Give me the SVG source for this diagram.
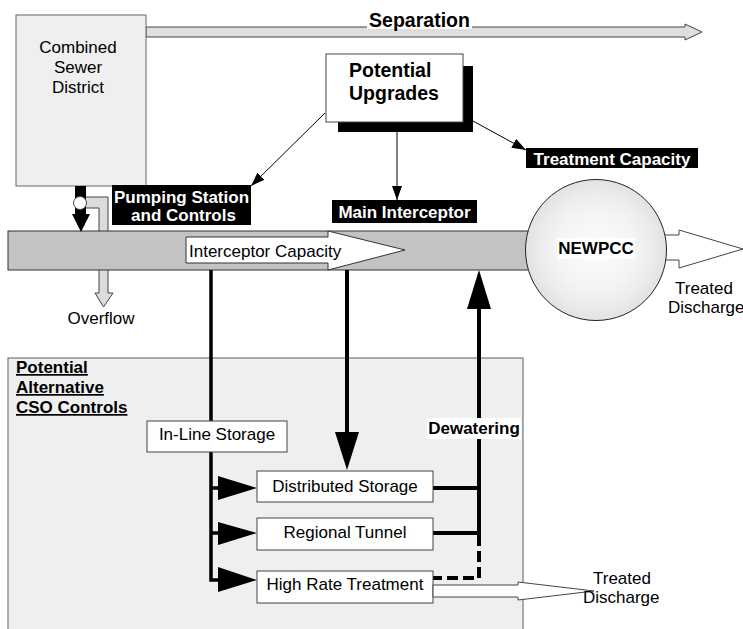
<svg xmlns="http://www.w3.org/2000/svg" width="743" height="629" viewBox="0 0 743 629">
<style>
text{font-family:"Liberation Sans",Arial,sans-serif;font-size:17px;fill:#000}
.b{font-weight:bold}
.w{fill:#fff}
.title{font-size:19.5px;font-weight:bold}
.u{text-decoration:underline}
.box{fill:#fff;stroke:#444;stroke-width:1}
.thin{stroke:#000;stroke-width:1;fill:none}
.thick{stroke:#000;stroke-width:4;fill:none}
.blk{fill:#000}
</style>
<defs>
<marker id="ah" viewBox="0 0 14 10" refX="14" refY="5" markerWidth="14" markerHeight="10" markerUnits="userSpaceOnUse" orient="auto">
<path d="M0,0 L14,5 L0,10 Z" fill="#000"/>
</marker>
<radialGradient id="rg" cx="0.5" cy="0.5" r="0.5">
<stop offset="0" stop-color="#fcfcfc"/>
<stop offset="0.55" stop-color="#f4f4f4"/>
<stop offset="0.8" stop-color="#ececec"/>
<stop offset="1" stop-color="#e2e2e2"/>
</radialGradient>
</defs>

<g id="cso-area">
<rect x="8" y="358" width="515" height="290" fill="#efefef" stroke="#777" stroke-width="1.2"/>
<text class="b u" x="16" y="373">Potential</text>
<text class="b u" x="16" y="393">Alternative</text>
<text class="b u" x="16" y="413">CSO Controls</text>
</g>

<g id="separation">
<polygon points="146,27 685,27 685,24 702,32 685,40 685,37 146,37" fill="#dedede" stroke="#444" stroke-width="1"/>
<rect x="367" y="10" width="105" height="19" fill="#fff"/>
<text class="title" x="419.5" y="27" text-anchor="middle">Separation</text>
</g>

<g id="combined-sewer-district">
<rect x="16" y="15" width="130" height="171" fill="#efefef" stroke="#666" stroke-width="1"/>
<text x="78" y="53" text-anchor="middle">Combined</text>
<text x="78" y="73" text-anchor="middle">Sewer</text>
<text x="78" y="93" text-anchor="middle">District</text>
</g>

<g id="overflow">
<polygon points="84,197 108,197 108,293 113,293 103.5,307 95,293 99,293 99,208 84,208" fill="#dcdcdc" stroke="#444" stroke-width="1"/>
<text x="101" y="324" text-anchor="middle">Overflow</text>
</g>

<g id="treated-discharge-top">
<polygon points="655,235 679,235 679,230 743,249 679,268 679,260 655,260" fill="#fff" stroke="#444" stroke-width="1"/>
<text x="675" y="294">Treated</text>
<text x="668" y="313">Discharge</text>
</g>

<g id="interceptor">
<rect x="8" y="231" width="530" height="39" fill="#c3c3c3" stroke="#333" stroke-width="1"/>
</g>

<g id="interceptor-capacity">
<polygon points="186,237 328,237 328,231 405,250 328,270 328,263 186,263" fill="#fff" stroke="#333" stroke-width="1"/>
<text x="189" y="257">Interceptor Capacity</text>
</g>

<g id="pumping-junction">
<rect x="75" y="186" width="11" height="30" fill="#000"/>
<polygon points="72,214 90,214 81,232" fill="#000"/>
<circle cx="80" cy="203" r="6.5" fill="#fff" stroke="#444" stroke-width="1"/>
</g>

<g id="newpcc">
<circle cx="596" cy="250" r="70.5" fill="url(#rg)" stroke="#222" stroke-width="1"/>
<rect x="557" y="238" width="78" height="21" fill="#fff"/>
<text class="b" x="596" y="254" text-anchor="middle">NEWPCC</text>
</g>

<g id="potential-upgrades">
<rect x="338" y="66" width="135" height="66" fill="#000"/>
<rect x="326" y="54" width="137" height="68" fill="#fff" stroke="#444" stroke-width="1"/>
<text class="title" x="349" y="77">Potential</text>
<text class="title" x="349" y="100">Upgrades</text>
</g>

<g id="pumping-station-label">
<rect x="112" y="185" width="139" height="40" fill="#000"/>
<text class="b w" x="181.5" y="203" text-anchor="middle">Pumping Station</text>
<text class="b w" x="183.5" y="221" text-anchor="middle">and Controls</text>
</g>

<g id="main-interceptor-label">
<rect x="332" y="200" width="145" height="23" fill="#000"/>
<text class="b w" x="404.5" y="218" text-anchor="middle">Main Interceptor</text>
</g>

<g id="treatment-capacity-label">
<rect x="526" y="148" width="172" height="20" fill="#000"/>
<text class="b w" x="612" y="165" text-anchor="middle">Treatment Capacity</text>
</g>

<g id="connectors">
<line class="thin" x1="325" y1="113" x2="251" y2="186" marker-end="url(#ah)"/>
<line class="thin" x1="397" y1="132" x2="397" y2="200" marker-end="url(#ah)"/>
<line class="thin" x1="473" y1="121" x2="526" y2="150" marker-end="url(#ah)"/>

<polyline points="211,270 211,580 220,580" fill="none" stroke="#000" stroke-width="3.5"/>
<line x1="211" y1="488" x2="220" y2="488" stroke="#000" stroke-width="3.5"/>
<line x1="211" y1="533" x2="220" y2="533" stroke="#000" stroke-width="3.5"/>
<polygon class="blk" points="218,476 257,488 218,500"/>
<polygon class="blk" points="218,522 257,533 218,545"/>
<polygon class="blk" points="218,567 257,580 218,592"/>

<line class="thick" x1="347" y1="270" x2="347" y2="434"/>
<polygon class="blk" points="335,432 359,432 347,470"/>

<line class="thick" x1="479" y1="307" x2="479" y2="535"/>
<polygon class="blk" points="467,309 491,309 479,270"/>
<line class="thick" x1="433" y1="488" x2="481" y2="488"/>
<line class="thick" x1="433" y1="533" x2="481" y2="533"/>
<polyline points="479,535 479,578 433,578" fill="none" stroke="#000" stroke-width="4" stroke-dasharray="11 5"/>
<rect x="427" y="418" width="94" height="21" fill="#fff"/>
<text class="b" x="474" y="434" text-anchor="middle">Dewatering</text>
</g>

<g id="in-line-storage">
<rect class="box" x="147" y="421" width="140" height="31"/>
<text x="217" y="440" text-anchor="middle">In-Line Storage</text>
</g>

<g id="distributed-storage">
<rect class="box" x="257" y="471" width="176" height="31"/>
<text x="345" y="492" text-anchor="middle">Distributed Storage</text>
</g>

<g id="regional-tunnel">
<rect class="box" x="257" y="518" width="176" height="32"/>
<text x="345" y="538" text-anchor="middle">Regional Tunnel</text>
</g>

<g id="high-rate-treatment">
<rect class="box" x="257" y="571" width="176" height="32"/>
<text x="345" y="590" text-anchor="middle">High Rate Treatment</text>
</g>

<g id="treated-discharge-bottom">
<polygon points="433,585 518,585 518,582 594,591 518,600 518,597 433,597" fill="#fff" stroke="#444" stroke-width="1"/>
<text x="593" y="584">Treated</text>
<text x="583" y="603">Discharge</text>
</g>
</svg>
